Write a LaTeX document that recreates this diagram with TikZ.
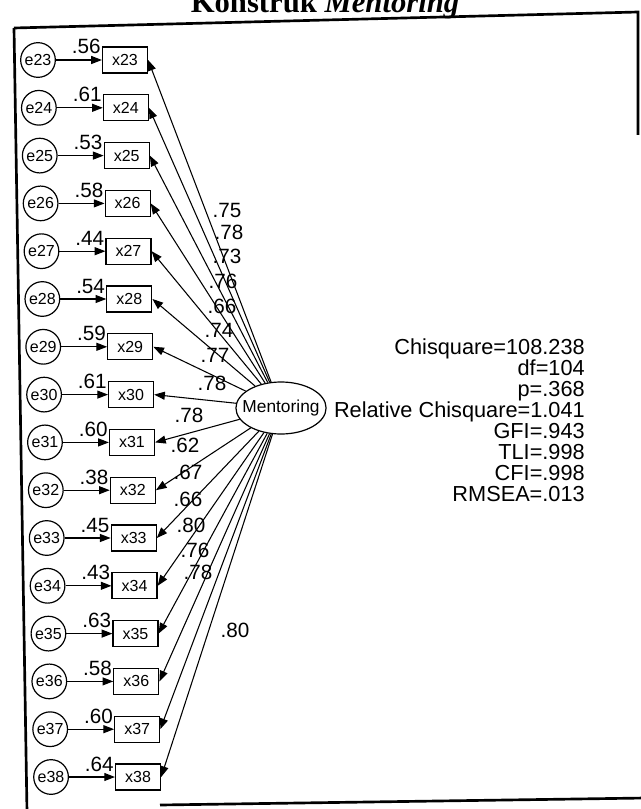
\documentclass[tikz,border=0pt]{standalone}
\usepackage{fontspec}
\setmainfont{Liberation Sans}
\newfontfamily\titlefont{Liberation Serif}
\usetikzlibrary{arrows.meta,calc,shapes.geometric}
\begin{document}
\begin{tikzpicture}[x=0.75pt,y=-0.75pt,
  errnode/.style={circle,draw,line width=0.9pt,minimum size=26pt,inner sep=0pt,font=\fontsize{12}{12}\selectfont},
  obsbox/.style={rectangle,draw,line width=0.9pt,minimum width=33.75pt,minimum height=19.5pt,inner sep=0pt,font=\fontsize{12}{12}\selectfont},
  latent/.style={ellipse,draw,line width=0.9pt,minimum width=67.5pt,minimum height=39pt,inner xsep=-5pt,inner ysep=0pt,font=\fontsize{13}{13}\selectfont},
  lbl/.style={font=\fontsize{15.5}{15.5}\selectfont,inner sep=0pt},
  stat/.style={font=\fontsize{16.3}{16}\selectfont,inner sep=0pt,anchor=base east},
  regpath/.style={line width=0.8pt,-{Triangle[length=8pt,width=6pt]}},
  framepen/.style={line width=2pt}
]
\useasboundingbox (0,0) rectangle (641,809);
% title (partly cut at top, as in the scan)
\node[font=\titlefont\bfseries\fontsize{23}{23}\selectfont,anchor=base,inner sep=0pt] (title) at (325,13) {Konstruk \textit{Mentoring}};
% frame
\draw[framepen] (14,28) -- (638,12) -- (638,135);
\draw[framepen] (14,28) -- (27,812);
\draw[framepen] (160,805) -- (645,798);
% latent
\node[latent] (M) at (281,408) {Mentoring};
% rows
\foreach \n [count=\i from 0] in {23,...,38} {
  \pgfmathsetmacro\yy{60+47.8*\i}
  \pgfmathsetmacro\sx{0.87*\i}
  \node[errnode] (e\n) at (38+\sx,\yy) {e\n};
  \node[obsbox] (x\n) at (125+\sx,\yy) {x\n};
  \draw[regpath] (e\n) -- (x\n);
  \draw[regpath] (M) -- (x\n.east);
}
% error weights
\foreach \n/\w in {23/.56,24/.61,25/.53,26/.58,27/.44,28/.54,29/.59,30/.61,31/.60,32/.38,33/.45,34/.43,35/.63,36/.58,37/.60,38/.64} {
  \node[lbl,anchor=base east] (w\n) at ($(x\n.west)+(-1,-6)$) {\w};
}
% loadings
\foreach \n/\v/\px/\py in {23/.75/227/210,24/.78/229/232,25/.73/227/256,26/.76/223/281,27/.66/222/306,28/.74/219/330,29/.77/215/355,30/.78/212/383,31/.78/189/415,32/.62/185/445,33/.67/188/472,34/.66/188/499,35/.80/191/525,36/.76/195/550,37/.78/198/572,38/.80/235/630} {
  \node[lbl] (l\n) at (\px,\py) {\v};
}
% fit statistics
\node[stat] (s1) at (585,354) {Chisquare=108.238};
\node[stat] (s2) at (585,375) {df=104};
\node[stat] (s3) at (585,396) {p=.368};
\node[stat] (s4) at (585,417) {Relative Chisquare=1.041};
\node[stat] (s5) at (585,438) {GFI=.943};
\node[stat] (s6) at (585,459) {TLI=.998};
\node[stat] (s7) at (585,480) {CFI=.998};
\node[stat] (s8) at (585,501) {RMSEA=.013};
\end{tikzpicture}
\end{document}
